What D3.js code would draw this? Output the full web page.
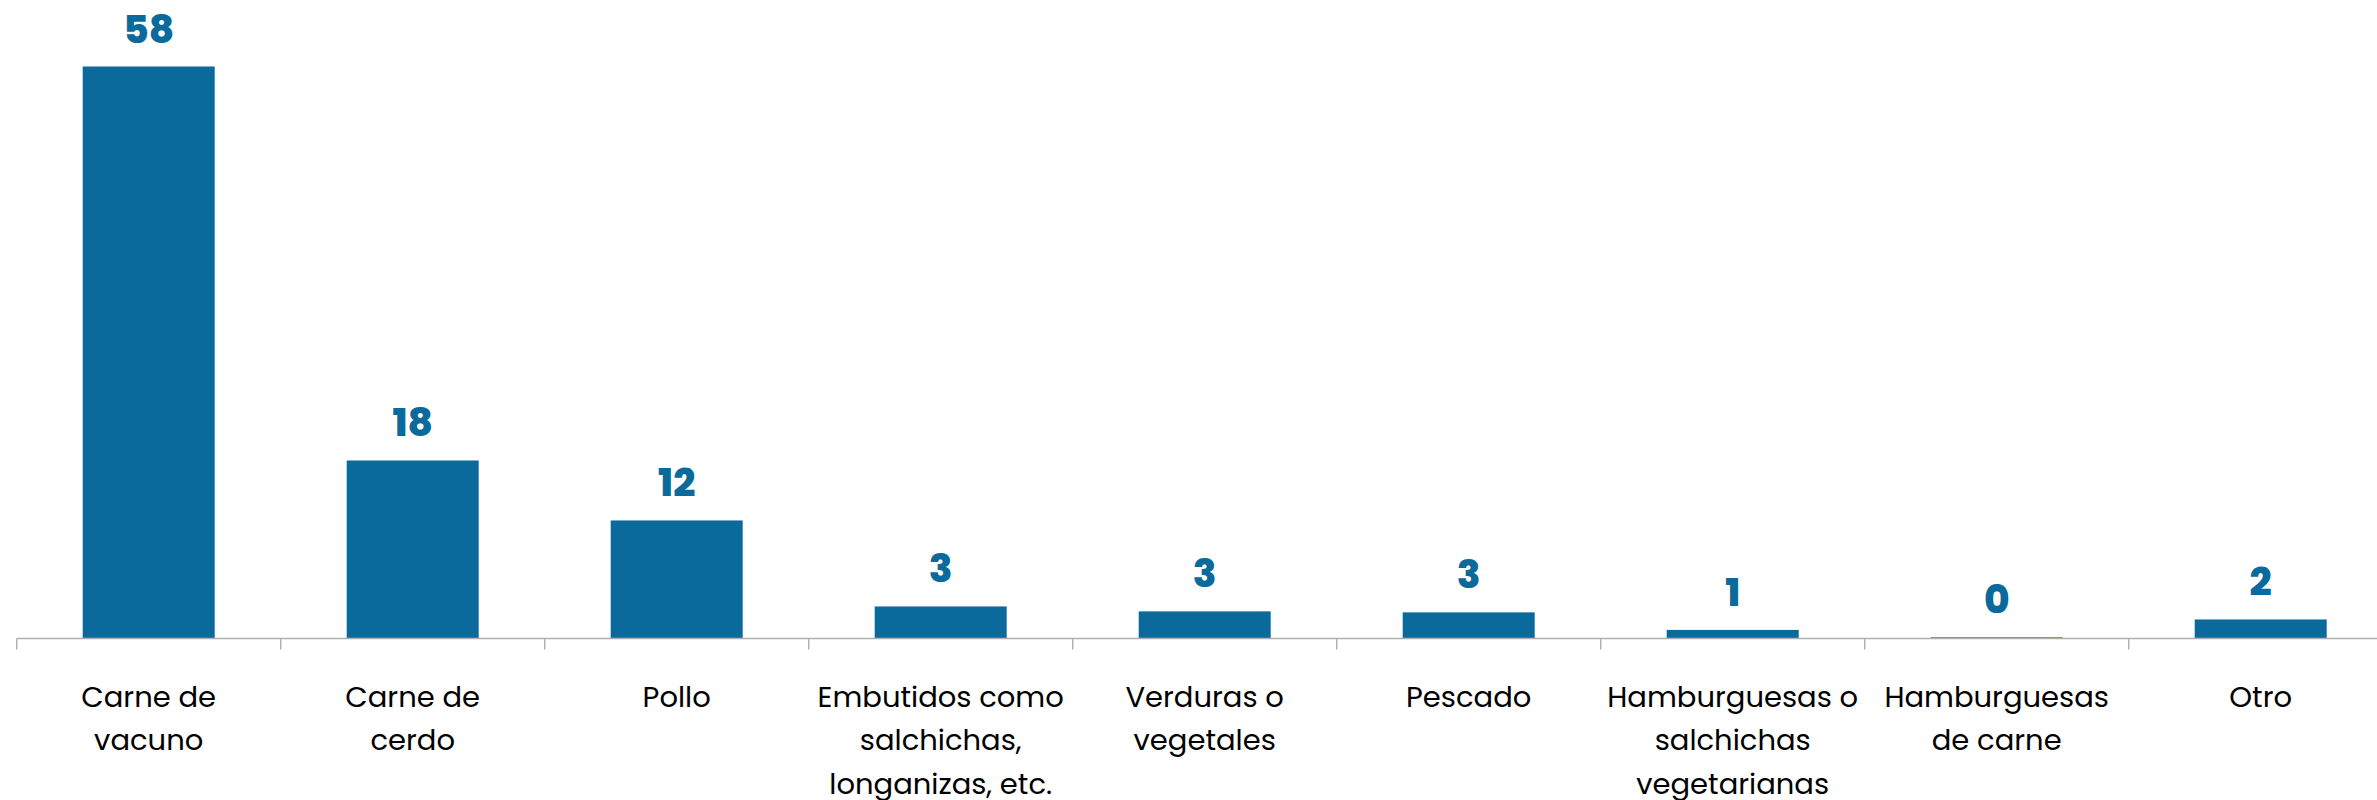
<!DOCTYPE html>
<html>
<head>
<meta charset="utf-8">
<script src="https://cdn.jsdelivr.net/npm/d3@7"></script>
<style>
  html, body { margin: 0; padding: 0; background: #ffffff; }
  svg { display: block; }
</style>
</head>
<body>
<svg id="chart" width="2377" height="800"></svg>
<script>
// ---- data ----
const categories = [
  "Carne de\nvacuno",
  "Carne de\ncerdo",
  "Pollo",
  "Embutidos como\nsalchichas,\nlonganizas, etc.",
  "Verduras o\nvegetales",
  "Pescado",
  "Hamburguesas o\nsalchichas\nvegetarianas",
  "Hamburguesas\nde carne",
  "Otro"
];
const values = [58.0, 18.05, 11.97, 3.25, 2.75, 2.65, 0.87, 0.12, 1.93];
const valueLabels = ["58", "18", "12", "3", "3", "3", "1", "0", "2"];

// ---- layout ----
const baseY = 638.5, topY = 66.5;
const left = 16.7, right = 2392.7;
const barColor = "#0b6a9c";

const svg = d3.select("#chart");

const x = d3.scaleBand().domain(categories).range([left, right]).padding(0);
const y = d3.scaleLinear().domain([0, 58]).range([baseY, topY]);
const bw = x.bandwidth();

// bars
svg.append("g").selectAll("rect")
  .data(categories)
  .join("rect")
  .attr("x", d => x(d) + bw * 0.25)
  .attr("width", bw * 0.5)
  .attr("y", (d, i) => y(values[i]))
  .attr("height", (d, i) => baseY - y(values[i]))
  .attr("fill", barColor);

// axis line and ticks at band boundaries
const axis = svg.append("g").attr("stroke", "#b0b0b0").attr("stroke-width", 1.5);
axis.append("line")
  .attr("x1", left).attr("x2", right)
  .attr("y1", baseY).attr("y2", baseY);
const tickXs = categories.map(c => x(c)).concat([right]);
axis.selectAll("line.tick")
  .data(tickXs)
  .join("line")
  .attr("class", "tick")
  .attr("x1", d => d).attr("x2", d => d)
  .attr("y1", baseY).attr("y2", baseY + 11);

// value labels
svg.append("g").selectAll("text")
  .data(categories)
  .join("text")
  .attr("x", d => x(d) + bw / 2)
  .attr("y", (d, i) => y(values[i]) - 24)
  .attr("text-anchor", "middle")
  .attr("font-family", "Poppins, Inter, 'Noto Sans', sans-serif")
  .attr("font-weight", 800)
  .attr("font-size", 39)
  .attr("fill", barColor)
  .text((d, i) => valueLabels[i]);

// category labels
const catG = svg.append("g")
  .attr("font-family", "Poppins, Inter, 'Noto Sans', sans-serif")
  .attr("font-size", 29)
  .attr("fill", "#000000")
  .attr("text-anchor", "middle");
categories.forEach(c => {
  const t = catG.append("text").attr("x", x(c) + bw / 2).attr("y", 706.5);
  c.split("\n").forEach((line, j) => {
    t.append("tspan")
      .attr("x", x(c) + bw / 2)
      .attr("dy", j === 0 ? 0 : 43.5)
      .text(line);
  });
});
</script>
</body>
</html>
